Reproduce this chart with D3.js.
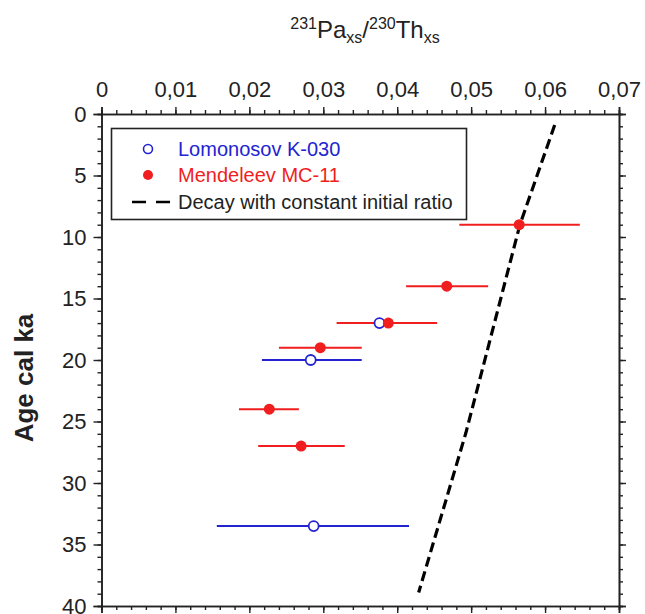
<!DOCTYPE html>
<html>
<head>
<meta charset="utf-8">
<script src="https://cdn.jsdelivr.net/npm/d3@7"></script>
<style>
	body {
		margin: 0;
		background: #ffffff;
	}

	svg text {
		font-family: "Liberation Sans", Arial, sans-serif;
	}
</style>
</head>
<body>
<svg id="chart" width="645" height="614"></svg>
<script>
// Mendeleev MC-11 (red, filled)
const mendAge = [9, 14, 17, 19, 24, 27];
const mendRatio = [0.0565, 0.0467, 0.0388, 0.0296, 0.0227, 0.0270];
const mendLow = [0.0484, 0.0412, 0.0318, 0.0240, 0.0186, 0.0212];
const mendHigh = [0.0647, 0.0523, 0.0454, 0.0352, 0.0267, 0.0329];

// Lomonosov K-030 (blue, open)
const lomAge = [17, 20, 33.5];
const lomRatio = [0.0376, 0.0283, 0.0287];
const lomLow = [0.0322, 0.0217, 0.0156];
const lomHigh = [0.0440, 0.0352, 0.0416];

// Decay with constant initial ratio
const decayAge = [0.9, 9, 25.9, 38.9];
const decayRatio = [0.0613, 0.0566, 0.0493, 0.0429];

const xTicks = [0, 0.01, 0.02, 0.03, 0.04, 0.05, 0.06, 0.07];
const xTickLabels = ["0", "0,01", "0,02", "0,03", "0,04", "0,05", "0,06", "0,07"];
const yTicks = [0, 5, 10, 15, 20, 25, 30, 35, 40];

const legendItems = [
	{label: "Lomonosov K-030", color: "#2323d2", kind: "open"},
	{label: "Mendeleev MC-11", color: "#f01e1e", kind: "filled"},
	{label: "Decay with constant initial ratio", color: "#000000", kind: "dash"},
];

const blue = "#2323d2";
const red = "#f01e1e";

const box = {left: 101.5, right: 619, top: 114, bottom: 606};

const svg = d3.select("#chart");

const x = d3.scaleLinear().domain([0, 0.07]).range([box.left, box.right]);
const y = d3.scaleLinear().domain([0, 40]).range([box.top, box.bottom]);

const minorX = d3.range(0, 0.0701, 0.002);
const minorY = d3.range(0, 40.01, 1);

function styleAxis(g) {
	g.select(".domain").attr("stroke", "#222").attr("stroke-width", 1.6);
	g.selectAll(".tick line").attr("stroke", "#222").attr("stroke-width", 1.4);
	g.selectAll(".tick text")
		.attr("fill", "#222")
		.style("font-size", "22px");
}

// minor ticks first, majors over them
svg.append("g")
	.attr("transform", `translate(0,${box.top})`)
	.call(d3.axisTop(x).tickValues(minorX).tickSize(4).tickFormat(""))
	.call(styleAxis);
svg.append("g")
	.attr("transform", `translate(0,${box.top})`)
	.call(
		d3.axisTop(x)
			.tickValues(xTicks)
			.tickSize(7)
			.tickPadding(10)
			.tickFormat((d, i) => xTickLabels[i]),
	)
	.call(styleAxis);

svg.append("g")
	.attr("transform", `translate(0,${box.bottom})`)
	.call(d3.axisBottom(x).tickValues(minorX).tickSize(4).tickFormat(""))
	.call(styleAxis);
svg.append("g")
	.attr("transform", `translate(0,${box.bottom})`)
	.call(d3.axisBottom(x).tickValues(xTicks).tickSize(7).tickFormat(""))
	.call(styleAxis);

svg.append("g")
	.attr("transform", `translate(${box.left},0)`)
	.call(d3.axisLeft(y).tickValues(minorY).tickSize(4).tickFormat(""))
	.call(styleAxis);
svg.append("g")
	.attr("transform", `translate(${box.left},0)`)
	.call(d3.axisLeft(y).tickValues(yTicks).tickSize(8).tickPadding(7))
	.call(styleAxis);

svg.append("g")
	.attr("transform", `translate(${box.right},0)`)
	.call(d3.axisRight(y).tickValues(minorY).tickSize(4).tickFormat(""))
	.call(styleAxis);
svg.append("g")
	.attr("transform", `translate(${box.right},0)`)
	.call(d3.axisRight(y).tickValues(yTicks).tickSize(7).tickFormat(""))
	.call(styleAxis);

// Axis titles
const title = svg.append("text")
	.attr("x", 365)
	.attr("y", 38)
	.attr("text-anchor", "middle")
	.attr("fill", "#222")
	.style("font-size", "24px");
title.append("tspan").attr("dy", "-9").style("font-size", "16px").text("231");
title.append("tspan").attr("dy", "9").text("Pa");
title.append("tspan").attr("dy", "5").style("font-size", "16px").text("xs");
title.append("tspan").attr("dy", "-5").text("/");
title.append("tspan").attr("dy", "-9").style("font-size", "16px").text("230");
title.append("tspan").attr("dy", "9").text("Th");
title.append("tspan").attr("dy", "5").style("font-size", "16px").text("xs");

svg.append("text")
	.attr("transform", `translate(33,${(box.top + box.bottom) / 2 + 18}) rotate(-90)`)
	.attr("text-anchor", "middle")
	.attr("fill", "#222")
	.style("font-size", "26px")
	.style("font-weight", "bold")
	.text("Age cal ka");

// Legend
const legend = svg.append("g");
legend.append("rect")
	.attr("x", 111.5)
	.attr("y", 128.5)
	.attr("width", 355)
	.attr("height", 91)
	.attr("fill", "#fff")
	.attr("stroke", "#222")
	.attr("stroke-width", 1.6);

const rowY = [149, 175, 202];
legendItems.forEach((item, i) => {
	const cy = rowY[i];
	if (item.kind === "open") {
		legend.append("circle")
			.attr("cx", 148).attr("cy", cy).attr("r", 4.5)
			.attr("fill", "#fff").attr("stroke", item.color).attr("stroke-width", 1.6);
	} else if (item.kind === "filled") {
		legend.append("circle")
			.attr("cx", 148).attr("cy", cy).attr("r", 5)
			.attr("fill", item.color);
	} else {
		legend.append("line")
			.attr("x1", 132).attr("x2", 170).attr("y1", cy).attr("y2", cy)
			.attr("stroke", "#000").attr("stroke-width", 2.6)
			.attr("stroke-dasharray", "14,10");
	}
	legend.append("text")
		.attr("x", 178)
		.attr("y", cy + 7)
		.attr("fill", item.kind === "dash" ? "#222" : item.color)
		.style("font-size", "20px")
		.text(item.label);
});

// Decay line
const line = d3.line()
	.x((d) => x(d[1]))
	.y((d) => y(d[0]));

svg.append("path")
	.datum(decayAge.map((a, i) => [a, decayRatio[i]]))
	.attr("d", line)
	.attr("fill", "none")
	.attr("stroke", "#000")
	.attr("stroke-width", 3.2)
	.attr("stroke-dasharray", "10,5");

// Error bars
const lomData = lomAge.map((a, i) => ({age: a, v: lomRatio[i], lo: lomLow[i], hi: lomHigh[i]}));
const mendData = mendAge.map((a, i) => ({age: a, v: mendRatio[i], lo: mendLow[i], hi: mendHigh[i]}));

function errorBars(data, color) {
	svg.append("g")
		.selectAll("line")
		.data(data)
		.enter()
		.append("line")
		.attr("x1", (d) => x(d.lo))
		.attr("x2", (d) => x(d.hi))
		.attr("y1", (d) => y(d.age))
		.attr("y2", (d) => y(d.age))
		.attr("stroke", color)
		.attr("stroke-width", 2);
}
errorBars(lomData, blue);
errorBars(mendData, red);

svg.append("g")
	.selectAll("circle")
	.data(lomData)
	.enter()
	.append("circle")
	.attr("cx", (d) => x(d.v))
	.attr("cy", (d) => y(d.age))
	.attr("r", 5)
	.attr("fill", "#fff")
	.attr("stroke", blue)
	.attr("stroke-width", 1.8);

svg.append("g")
	.selectAll("circle")
	.data(mendData)
	.enter()
	.append("circle")
	.attr("cx", (d) => x(d.v))
	.attr("cy", (d) => y(d.age))
	.attr("r", 5.5)
	.attr("fill", red);
</script>
</body>
</html>
